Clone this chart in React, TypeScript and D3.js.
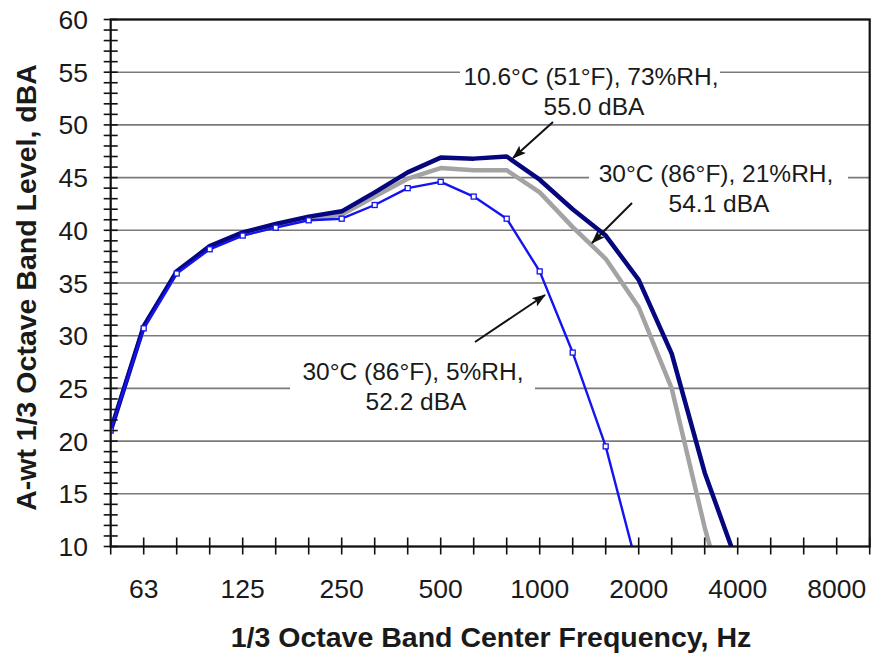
import React from 'react';
import * as d3 from 'd3';

// 1/3 octave band centre frequencies (x categories)
const bands = ["50","63","80","100","125","160","200","250","315","400","500","630","800","1000","1250","1600","2000","2500","3150","4000","5000","6300","8000","10000"];
const xTickLabels = ["63","125","250","500","1000","2000","4000","8000"];
const yTicks = [10, 15, 20, 25, 30, 35, 40, 45, 50, 55, 60];

// A-weighted 1/3 octave band levels, dBA (one value per band, starting at 50 Hz)
const rh73 = [21.0, 30.9, 36.1, 38.5, 39.8, 40.6, 41.3, 41.8, 43.6, 45.5, 46.9, 46.8, 47.0, 44.8, 42.0, 39.5, 35.3, 28.3, 17.0, 8.3];
const rh21 = [21.0, 30.8, 36.0, 38.4, 39.6, 40.4, 41.1, 41.5, 43.2, 44.9, 45.9, 45.7, 45.7, 43.6, 40.3, 37.3, 32.7, 25.0, 11.8, 0.5];
const rh5 = [21.0, 30.7, 35.9, 38.2, 39.5, 40.25, 40.95, 41.1, 42.4, 44.0, 44.6, 43.2, 41.1, 36.1, 28.4, 19.5, 7.5];

const W = 876, H = 658;
const L = 110.7, R = 869.7, T = 19.5, B = 546.5;
const FONT = "'Liberation Sans', Arial, Helvetica, sans-serif";
const TXT = "#1a1a1a";

export default function App() {
  const x = d3.scalePoint<string>().domain(bands).range([L, R]).padding(0);
  const y = d3.scaleLinear().domain([10, 60]).range([B, T]);

  const line = d3.line<number>()
    .x((_, i) => x(bands[i]) as number)
    .y((d) => y(d));

  const minor = d3.range(10, 61, 1);

  const annotations = [
    { lines: ["10.6°C (51°F), 73%RH,", "55.0 dBA"], cx: 591, by: 85, box: [460, 58, 260, 64], arrow: [553, 122, 513, 158] },
    { lines: ["30°C (86°F), 21%RH,", "54.1 dBA"], cx: 716, by: 181.5, box: [589, 160, 259, 58], arrow: [632, 203, 592, 243] },
    { lines: ["30°C (86°F), 5%RH,", "52.2 dBA"], cx: 413, by: 379.5, box: [290, 355, 245, 62], arrow: [475, 342, 545, 295] },
  ];

  return (
    <div style={{ position: 'absolute', left: 0, top: 0 }}>
      <svg width={W} height={H} viewBox={`0 0 ${W} ${H}`} style={{ display: 'block', background: '#fff' }}>
        <defs>
          <clipPath id="plot">
            <rect x={L} y={T} width={R - L} height={B - T} />
          </clipPath>
          <marker id="arr" viewBox="0 0 14 10" refX="13" refY="5" markerWidth="14" markerHeight="10" markerUnits="userSpaceOnUse" orient="auto">
            <path d="M0,0 L14,5 L0,10 L3,5 Z" fill="#111" />
          </marker>
        </defs>

        {/* gridlines */}
        {yTicks.map((v) => (
          <line key={'g' + v} x1={L} x2={R} y1={y(v)} y2={y(v)} stroke="#7a7a7a" strokeWidth={1.6} />
        ))}

        {/* annotation background boxes */}
        {annotations.map((a, i) => (
          <rect key={'b' + i} x={a.box[0]} y={a.box[1]} width={a.box[2]} height={a.box[3]} fill="#fff" />
        ))}

        {/* series */}
        <g clipPath="url(#plot)">
          <path d={line(rh21) || ''} fill="none" stroke="#a3a3a3" strokeWidth={4.5} strokeLinejoin="round" />
          <path d={line(rh73) || ''} fill="none" stroke="#06067e" strokeWidth={4.5} strokeLinejoin="round" />
          <path d={line(rh5) || ''} fill="none" stroke="#1414f0" strokeWidth={2.4} strokeLinejoin="round" />
          {rh5.map((v, i) => (
            <rect key={'m' + i} x={(x(bands[i]) as number) - 2.5} y={y(v) - 2.5} width={5} height={5} fill="#fff" stroke="#1414f0" strokeWidth={1.3} />
          ))}
        </g>

        {/* frame */}
        <rect x={L} y={T} width={R - L} height={B - T} fill="none" stroke="#111" strokeWidth={2.2} />

        {/* y minor ticks */}
        {minor.map((v) => (
          <line key={'yt' + v} x1={L - 7} x2={L + 7} y1={y(v)} y2={y(v)} stroke="#111" strokeWidth={1.6} />
        ))}
        {/* x ticks */}
        {bands.map((b) => (
          <line key={'xt' + b} x1={x(b) as number} x2={x(b) as number} y1={B - 9} y2={B + 8} stroke="#111" strokeWidth={1.6} />
        ))}

        {/* y tick labels */}
        {yTicks.map((v) => (
          <text key={'yl' + v} x={88} y={y(v) + 9.5} textAnchor="end" fontFamily={FONT} fontSize={26.5} fill={TXT}>{v}</text>
        ))}
        {/* x tick labels */}
        {xTickLabels.map((b) => (
          <text key={'xl' + b} x={x(b) as number} y={598} textAnchor="middle" fontFamily={FONT} fontSize={26.5} fill={TXT}>{b}</text>
        ))}

        {/* axis titles */}
        <text x={491} y={647} textAnchor="middle" fontFamily={FONT} fontSize={28.5} fontWeight="bold" fill={TXT}>1/3 Octave Band Center Frequency, Hz</text>
        <text transform="translate(35.5,287.5) rotate(-90)" textAnchor="middle" fontFamily={FONT} fontSize={28.5} fontWeight="bold" fill={TXT}>A-wt 1/3 Octave Band Level, dBA</text>

        {/* annotations */}
        {annotations.map((a, i) => (
          <g key={'a' + i}>
            <text x={a.cx} y={a.by} textAnchor="middle" fontFamily={FONT} fontSize={24.5} fill={TXT}>{a.lines[0]}</text>
            <text x={a.cx + 3} y={a.by + 30} textAnchor="middle" fontFamily={FONT} fontSize={24.5} fill={TXT}>{a.lines[1]}</text>
            <line x1={a.arrow[0]} y1={a.arrow[1]} x2={a.arrow[2]} y2={a.arrow[3]} stroke="#111" strokeWidth={2} markerEnd="url(#arr)" />
          </g>
        ))}
      </svg>
    </div>
  );
}
